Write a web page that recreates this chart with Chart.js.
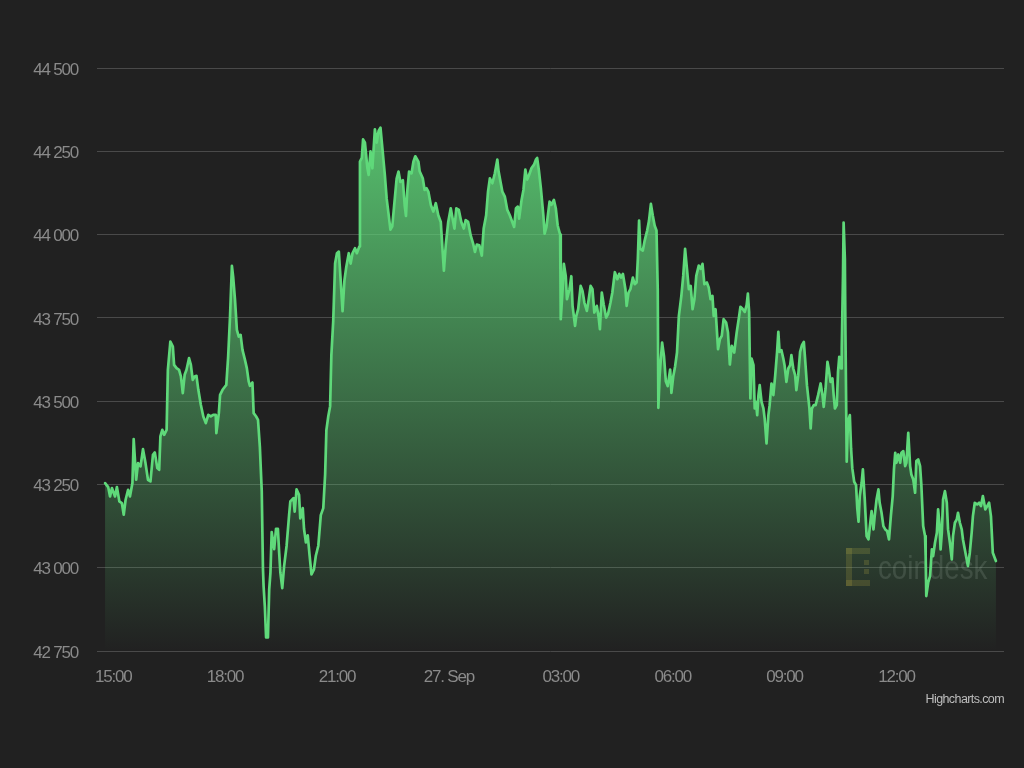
<!DOCTYPE html>
<html>
<head>
<meta charset="utf-8">
<script src="https://cdn.jsdelivr.net/npm/chart.js@4.4.1/dist/chart.umd.min.js"></script>
<style>
html,body{margin:0;padding:0;background:#212121;}
#wrap{width:1024px;height:768px;position:relative;}
</style>
</head>
<body>
<div id="wrap"><canvas id="c"></canvas></div>
<script>
// Time in minutes relative to 15:00 (26 Sep); prices in USD
const minutes = [
 -13,-8,-5,-2,3,6,10,14,17,20,24,27,31,33,37,40,44,48,52,56,60,64,67,71,74,76,79,82,86,88,92,96,98,102,106,109,112,115,118,122,125,128,131,134,137,141,145,149,153,157,161,165,166,170,172,176,180,182,185,188,191,193,196,199,202,205,208,212,215,218,
 220,224,226,230,233,236,239,241,242,244,246,249,251,253,255,259,262,265,267,269,272,275,279,283,285,290,292,295,299,301,305,307,310,313,316,319,323,326,330,334,338,341,343,346,349,351,354,357,360,363,366,369,372,375,379,382,385,389,392,396,397,400,402,405,409,411,414,417,421,424,427,430,433,437,440,442,446,449,452,456,459,462,466,469,471,473,476,480,483,486,491,
 493,498,501,504,507,511,515,519,523,527,529,532,535,539,543,546,549,552,556,560,564,567,571,575,579,582,585,589,593,596,600,603,606,610,614,618,620,623,626,630,634,638,642,645,648,651,653,657,660,663,666,669,673,677,680,682,685,688,692,694,697,700,702,705,709,712,715,717,
 719,720,723,725,728,730,734,737,739,743,745,748,752,755,758,762,765,768,771,774,778,781,783,786,789,793,796,800,803,807,811,814,817,820,824,826,829,832,836,839,842,844,846,848,852,855,859,862,865,868,871,874,876,877,879,883,886,889,892,896,898,901,904,907,910,914,917,920,923,926,929,932,935,938,942,945,948,951,955,958,961,964,966,969,973,976,979,982,986,989,992,995,999,1003,1007,
 1009,1012,1016,1019,1021,1023,1025,1027,1030,1032,1034,1036,1038,1040,1043,1046,1048,1051,1054,1056,1059,1062,1065,1068,1070,1072,1075,1078,1080,1083,1086,1089,1091,1094,1097,1099,1102,1105,1108,1111,1113,1116,1120,1122,1124,1127,1130,1134,1138,1141,1143,1146,1149,1151,1154,1157,1159,1161,1164,1166,1168,1171,1172,1174,1175,1177,1178,1180,1182,1185,1187,1189,1192,1195,1197,1199,
 1201,1204,1206,1209,1212,1215,1217,1220,1223,1225,1228,1231,1233,1236,1239,1242,1245,1248,1251,1254,1256,1258,1260,1263,1266,1268,1271,1274,1276,1279,1282,1284,1287,1290,1292,1295,1298,1300,1303,1306,1307,1308,1311,1314,1317,1319,1322,1325,1327,1329,1331,1333,1335,1338,1341,1343,1346,1349,1351,1354,1357,1359,1362,1365,1367,1370,1373,1375,1378,1381,1383,1386,1390,1393,1396,1399,1403,1406,1409,1412,1415,1418,1420
];
const prices = [
 43254,43242,43214,43239,43214,43242,43199,43194,43159,43204,43234,43214,43254,43386,43264,43314,43304,43356,43314,43264,43259,43339,43346,43299,43294,43394,43414,43399,43414,43594,43679,43664,43609,43599,43594,43574,43524,43579,43594,43629,43609,43564,43574,43576,43534,43489,43454,43434,43459,43454,43459,43459,43404,43464,43519,43534,43544,43549,43634,43754,43906,43874,43804,43714,43694,43699,43654,43624,43599,43559,
 43546,43556,43464,43454,43444,43362,43230,42995,42944,42883,42791,42791,42934,42985,43107,43056,43117,43117,43046,42985,42939,43005,43066,43158,43199,43209,43168,43235,43219,43148,43179,43117,43076,43097,43036,42980,42995,43036,43066,43158,43179,43281,43413,43454,43485,43638,43740,43913,43944,43949,43862,43770,43862,43903,43944,43913,43944,43959,43944,43964,44219,44230,44286,44276,44199,44179,44250,44199,44316,44276,44311,44321,44260,44179,44107,44077,44015,44025,44087,44168,44189,44158,44163,44087,44056,44128,44189,44184,44219,44235,44219,
 44190,44169,44134,44139,44129,44089,44069,44094,44058,44038,43978,43892,43968,44038,44079,44048,44018,44079,44074,44038,44018,44043,44038,43998,43973,43948,43970,43968,43937,44018,44058,44129,44169,44154,44184,44225,44190,44159,44129,44114,44074,44058,44038,44023,44079,44084,44048,44104,44134,44195,44165,44179,44200,44210,44225,44230,44190,44139,44058,44003,44023,44069,44099,44089,44104,44079,44028,44013,
 44000,43746,43836,43912,43876,43806,43836,43875,43786,43726,43756,43776,43846,43831,43796,43771,43806,43846,43836,43766,43786,43751,43716,43826,43791,43751,43761,43796,43826,43887,43866,43882,43871,43882,43836,43786,43826,43836,43871,43851,43856,43927,44042,43957,43952,43982,44012,44042,44092,44057,44027,44012,43836,43480,43575,43676,43636,43560,43545,43595,43525,43575,43605,43646,43756,43816,43876,43957,43897,43836,43846,43776,43806,43876,43907,43897,43912,43851,43856,43841,43806,43816,43756,43776,43656,43686,43696,43746,43736,43706,43610,43666,43646,43706,43756,
 43783,43778,43768,43788,43823,43768,43508,43628,43608,43478,43498,43458,43518,43548,43498,43478,43448,43373,43458,43488,43553,43518,43578,43648,43708,43648,43653,43628,43608,43558,43598,43608,43638,43598,43578,43533,43578,43648,43668,43678,43628,43548,43478,43418,43478,43488,43488,43518,43553,43518,43483,43538,43618,43598,43558,43568,43518,43478,43488,43588,43633,43598,43658,43878,44036,43928,43698,43318,43438,43458,43358,43298,43258,43248,43178,43138,
 43215,43255,43295,43205,43095,43085,43120,43170,43115,43155,43205,43235,43195,43165,43125,43115,43110,43085,43155,43215,43295,43345,43315,43340,43315,43345,43350,43305,43315,43405,43305,43280,43265,43225,43320,43325,43305,43250,43125,43095,43035,42915,42955,42975,43055,43035,43075,43105,43175,43135,43055,43105,43205,43230,43195,43115,43075,43025,43095,43135,43145,43165,43135,43115,43085,43055,43025,43005,43045,43105,43155,43195,43190,43195,43185,43215,43175,43185,43195,43155,43045,43030,43020
];
const xTickMinutes = [0,180,360,540,720,900,1080,1260];
const xTickLabels = ['15:00','18:00','21:00','27. Sep','03:00','06:00','09:00','12:00'];
const yTicks = [42750,43000,43250,43500,43750,44000,44250,44500];

const FONT = "'Liberation Sans', Arial, sans-serif";
const LABEL_COLOR = '#8a8a8a';
const fmt = v => String(v).replace(/\B(?=(\d{3})+(?!\d))/g, ' ');

const decor = {
  id: 'decor',
  beforeDraw(chart) {
    const ctx = chart.ctx;
    ctx.save();
    ctx.fillStyle = '#212121';
    ctx.fillRect(0, 0, chart.width, chart.height);
    ctx.restore();
    try { ctx.letterSpacing = '-1.2px'; } catch (e) {}
  },
  beforeDatasetsDraw(chart) {
    const ctx = chart.ctx;
    ctx.save();
    // coindesk watermark
    ctx.fillStyle = 'rgba(190,160,60,0.22)';
    const lx = 846, ly = 548;
    ctx.fillRect(lx, ly, 6, 38);
    ctx.fillRect(lx, ly, 24, 6);
    ctx.fillRect(lx, ly + 32, 24, 6);
    ctx.fillRect(lx + 18, ly + 12, 5, 5);
    ctx.fillRect(lx + 18, ly + 21, 5, 5);
    ctx.translate(878, 579);
    ctx.scale(0.84, 1);
    try { ctx.letterSpacing = '0px'; } catch (e) {}
    ctx.font = "33px " + FONT;
    ctx.fillStyle = 'rgba(200,200,200,0.16)';
    ctx.textAlign = 'left';
    ctx.textBaseline = 'alphabetic';
    ctx.fillText('coindesk', 0, 0);
    ctx.restore();
  },
  afterDraw(chart) {
    const ctx = chart.ctx;
    ctx.save();
    try { ctx.letterSpacing = '-0.6px'; } catch (e) {}
    ctx.font = "12.5px " + FONT;
    ctx.fillStyle = '#bdbdbd';
    ctx.textAlign = 'right';
    ctx.textBaseline = 'alphabetic';
    ctx.fillText('Highcharts.com', 1004, 703);
    ctx.restore();
  }
};

new Chart(document.getElementById('c'), {
  type: 'line',
  data: {
    datasets: [{
      data: minutes.map((m, i) => ({ x: m, y: prices[i] })),
      borderColor: '#5fd97a',
      borderWidth: 2.7,
      borderJoinStyle: 'round',
      borderCapStyle: 'round',
      pointRadius: 0,
      tension: 0,
      fill: 'start',
      backgroundColor: (c) => {
        const a = c.chart.chartArea;
        if (!a) return 'rgba(95,217,122,0.4)';
        const g = c.chart.ctx.createLinearGradient(0, a.top, 0, a.bottom);
        g.addColorStop(0, 'rgba(95,217,122,0.95)');
        g.addColorStop(1, 'rgba(95,217,122,0.0)');
        return g;
      }
    }]
  },
  options: {
    responsive: true,
    maintainAspectRatio: false,
    animation: false,
    layout: { padding: { top: 68, right: 20, left: 0, bottom: 0 } },
    plugins: { legend: { display: false }, tooltip: { enabled: false } },
    scales: {
      x: {
        type: 'linear',
        min: -26, max: 1433,
        afterBuildTicks: s => { s.ticks = xTickMinutes.map(v => ({ value: v })); },
        afterFit: s => { s.height = 117; },
        ticks: {
          callback: v => xTickLabels[xTickMinutes.indexOf(v)],
          color: LABEL_COLOR,
          font: { family: FONT, size: 17 },
          padding: 16,
          maxRotation: 0,
          autoSkip: false
        },
        grid: { display: false, drawTicks: false },
        border: { display: false }
      },
      y: {
        min: 42750, max: 44500,
        afterBuildTicks: s => { s.ticks = yTicks.map(v => ({ value: v })); },
        afterFit: s => { s.width = 97; },
        ticks: {
          callback: v => fmt(v),
          color: LABEL_COLOR,
          font: { family: FONT, size: 17 },
          padding: 19,
          labelOffset: 2
        },
        grid: { color: '#4a4a4a', lineWidth: 1, drawTicks: false },
        border: { display: false }
      }
    }
  },
  plugins: [decor]
});
</script>
</body>
</html>
